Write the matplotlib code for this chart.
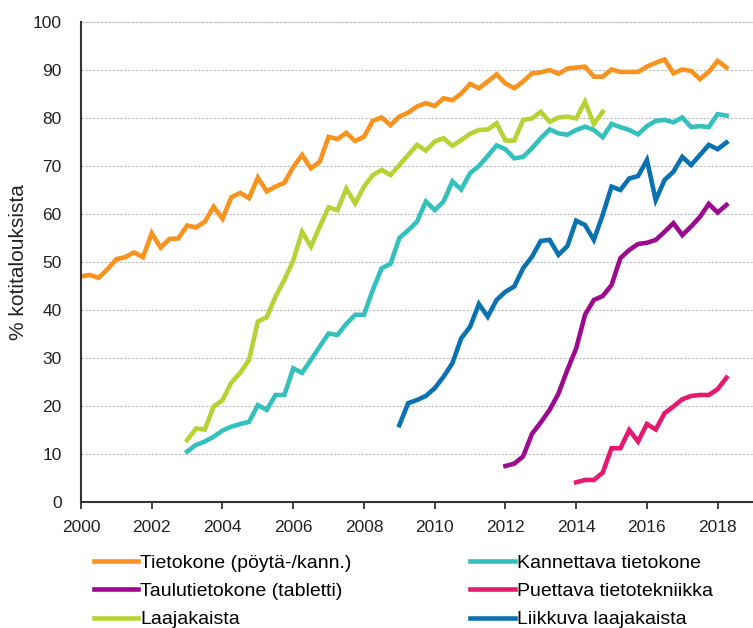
import numpy as np
import matplotlib
matplotlib.use("Agg")
import matplotlib.pyplot as plt

plt.rcParams['font.family'] = ['Liberation Sans', 'DejaVu Sans']

# quarterly survey values, % of households
tietokone = [47, 47.3, 46.7, 48.5, 50.6, 51, 52, 51, 56, 53, 54.8, 54.9,
             57.6, 57.2, 58.4, 61.5, 59, 63.5, 64.4, 63.3, 67.6, 64.7, 65.7, 66.5,
             69.8, 72.3, 69.5, 70.9, 76.1, 75.6, 76.9, 75.2, 76.1, 79.4, 80.1, 78.5,
             80.3, 81.1, 82.4, 83.1, 82.5, 84.1, 83.7, 85.1, 87.1, 86.2, 87.6, 89.1,
             87.2, 86.2, 87.6, 89.3, 89.5, 90, 89.2, 90.3, 90.5, 90.7, 88.6, 88.6,
             90.1, 89.6, 89.6, 89.6, 90.7, 91.5, 92.2, 89.3, 90.1, 89.8, 88.1, 89.6,
             91.9, 90.5]
kannettava = [10.5, 11.9, 12.6, 13.6, 14.9, 15.7, 16.25, 16.7, 20.2, 19.2, 22.3, 22.3,
              27.85, 26.9, 29.6, 32.4, 35.1, 34.8, 37.1, 39, 39, 44.2, 48.7, 49.6,
              55, 56.6, 58.4, 62.6, 60.8, 62.6, 66.8, 65.1, 68.5, 70, 72.1, 74.3,
              73.5, 71.6, 71.9, 73.7, 75.8, 77.6, 76.8, 76.5, 77.5, 78.2, 77.5, 76,
              78.75, 78.1, 77.5, 76.6, 78.3, 79.4, 79.6, 79.1, 80.1, 78.1, 78.3, 78.1,
              80.8, 80.5]
tabletti = [7.5, 8.0, 9.5, 14.2, 16.6, 19.2, 22.6, 27.5, 32, 39, 42.1, 42.9,
            45.2, 50.8, 52.5, 53.75, 54, 54.6, 56.3, 58.1, 55.6, 57.4, 59.4, 62.1,
            60.3, 61.9]
puettava = [4.1, 4.6, 4.6, 6.1, 11.2, 11.2, 15, 12.6, 16.25, 15.1, 18.5, 19.9,
            21.4, 22.1, 22.3, 22.3, 23.5, 25.9]
laajakaista = [12.9, 15.3, 15.1, 19.9, 21.2, 24.9, 26.9, 29.6, 37.6, 38.5, 42.8, 46.3,
               50.3, 56.3, 53.2, 57.4, 61.4, 60.8, 65.3, 62.2, 65.7, 68.1, 69.2, 68.1,
               70.2, 72.3, 74.4, 73.2, 75.1, 75.8, 74.2, 75.4, 76.7, 77.5, 77.6, 78.9,
               75.3, 75.3, 79.6, 79.9, 81.3, 79.2, 80.1, 80.3, 79.9, 83.4, 78.75, 81.3]
liikkuva = [16.0, 20.6, 21.25, 22.1, 23.7, 26.1, 28.9, 34.1, 36.5, 41.25, 38.6, 42.1,
            43.8, 44.9, 48.7, 51.1, 54.4, 54.6, 51.5, 53.3, 58.6, 57.7, 54.6, 59.8,
            65.7, 65, 67.4, 67.9, 71.25, 62.9, 67.1, 68.8, 71.9, 70.2, 72.3, 74.4,
            73.5, 74.9]

# first quarter of each series
starts = {'tietokone': 2000.0, 'kannettava': 2003.0, 'tabletti': 2012.0,
          'puettava': 2014.0, 'laajakaista': 2003.0, 'liikkuva': 2009.0}

labels = {'tietokone': 'Tietokone (pöytä-/kann.)',
          'kannettava': 'Kannettava tietokone',
          'tabletti': 'Taulutietokone (tabletti)',
          'puettava': 'Puettava tietotekniikka',
          'laajakaista': 'Laajakaista',
          'liikkuva': 'Liikkuva laajakaista'}
colors = {'tietokone': '#F7931E', 'kannettava': '#34C0BC', 'tabletti': '#9C0A8E',
          'puettava': '#E5196E', 'laajakaista': '#B5D334', 'liikkuva': '#0A72B0'}
series = {'tietokone': tietokone, 'kannettava': kannettava, 'tabletti': tabletti,
          'puettava': puettava, 'laajakaista': laajakaista, 'liikkuva': liikkuva}

fig = plt.figure(figsize=(7.53, 6.28), dpi=100)
ax = fig.add_axes([0.1076, 0.2006, 0.8924, 0.7644])

lines = {}
for key in ['laajakaista', 'kannettava', 'liikkuva', 'tabletti', 'puettava', 'tietokone']:
    vals = series[key]
    x = starts[key] + 0.25 * np.arange(len(vals))
    ln, = ax.plot(x, vals, color=colors[key], lw=3.3, solid_joinstyle='miter',
                  label=labels[key])
    lines[key] = ln

ax.set_xlim(2000, 2019)
ax.set_ylim(0, 100)
ax.set_xticks(np.arange(2000, 2019, 2))
ax.set_yticks(np.arange(0, 101, 10))
ax.tick_params(axis='y', length=0, pad=14, labelsize=12.5, colors='#222222')
ax.tick_params(axis='x', length=5, width=1.2, pad=8, labelsize=12.5,
               colors='#222222', direction='out')

for s in ['top', 'right']:
    ax.spines[s].set_visible(False)
for s in ['left', 'bottom']:
    ax.spines[s].set_color('#333333')
    ax.spines[s].set_linewidth(1.5)

ax.yaxis.grid(True, linestyle=(0, (2, 1.5)), color='#b8b8c4', lw=0.8)
ax.axhline(100, color='#d4d4d8', lw=1.2, zorder=0)
ax.set_axisbelow(True)

ax.set_ylabel('% kotitalouksista', fontsize=15, color='#222222', labelpad=3)

order = ['tietokone', 'tabletti', 'laajakaista', 'kannettava', 'puettava', 'liikkuva']
fig.legend([lines[k] for k in order], [labels[k] for k in order],
           loc='upper left', bbox_to_anchor=(0.114, 0.13), ncol=2,
           frameon=False, fontsize=14, handlelength=2.3, handletextpad=0.1,
           labelspacing=0.55, columnspacing=6.1, borderaxespad=0)

fig.savefig('out.png', dpi=100)
